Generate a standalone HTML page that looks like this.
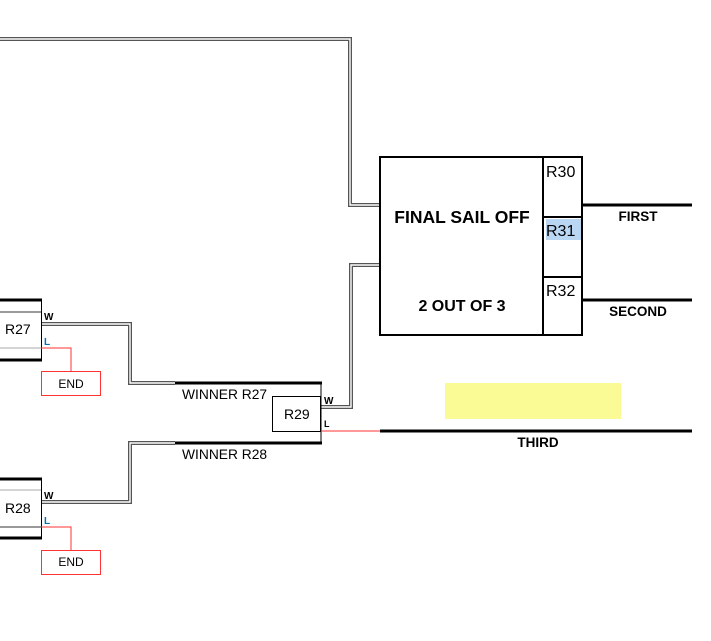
<!DOCTYPE html>
<html><head><style>
html,body{margin:0;padding:0;background:#fff;}
svg{display:block;}
text{font-family:"Liberation Sans",Arial,sans-serif;}
</style></head><body>
<svg width="711" height="641" viewBox="0 0 711 641" xmlns="http://www.w3.org/2000/svg">
<rect width="711" height="641" fill="#fff"/>
<g fill="none" stroke-linejoin="miter">
<g stroke="#555" stroke-width="4">
<polyline points="0,39 350,39 350,205 380,205"/>
<polyline points="321,407 351,407 351,265 380,265"/>
<polyline points="41,324 130,324 130,383 175,383"/>
<polyline points="41,502 130,502 130,443 175,443"/>
</g>
<g stroke="#fff" stroke-width="1.4">
<polyline points="0,39 350,39 350,205 380,205"/>
<polyline points="321,407 351,407 351,265 380,265"/>
<polyline points="41,324 130,324 130,383 175,383"/>
<polyline points="41,502 130,502 130,443 175,443"/>
</g>
</g>
<!-- R27 -->
<line x1="0" y1="300" x2="42" y2="300" stroke="#000" stroke-width="3"/>
<line x1="0" y1="312" x2="41" y2="312" stroke="#333" stroke-width="1"/>
<line x1="0" y1="348" x2="41" y2="348" stroke="#aaa" stroke-width="1"/>
<line x1="0" y1="360" x2="42" y2="360" stroke="#000" stroke-width="3"/>
<line x1="41.5" y1="299" x2="41.5" y2="361" stroke="#000" stroke-width="1"/>
<text x="5" y="334" font-size="14">R27</text>
<text x="44" y="320" font-size="10" font-weight="bold" fill="#000">W</text>
<text x="44" y="345" font-size="10" font-weight="bold" fill="#0070c0">L</text>
<polyline points="41,348 71,348 71,371" fill="none" stroke="#f33" stroke-width="1"/>
<rect x="41.5" y="371.5" width="59" height="24" fill="#fff" stroke="#f33" stroke-width="1"/>
<text x="71" y="388" font-size="12" text-anchor="middle">END</text>
<!-- R28 -->
<line x1="0" y1="479" x2="42" y2="479" stroke="#000" stroke-width="3"/>
<line x1="0" y1="490" x2="41" y2="490" stroke="#aaa" stroke-width="1"/>
<line x1="0" y1="527" x2="41" y2="527" stroke="#333" stroke-width="1"/>
<line x1="0" y1="538" x2="42" y2="538" stroke="#000" stroke-width="3"/>
<line x1="41.5" y1="478" x2="41.5" y2="539" stroke="#000" stroke-width="1"/>
<text x="5" y="513" font-size="14">R28</text>
<text x="44" y="499" font-size="10" font-weight="bold" fill="#000">W</text>
<text x="44" y="524" font-size="10" font-weight="bold" fill="#0070c0">L</text>
<polyline points="41,527 71,527 71,550" fill="none" stroke="#f33" stroke-width="1"/>
<rect x="41.5" y="550.5" width="59" height="24" fill="#fff" stroke="#f33" stroke-width="1"/>
<text x="71" y="566" font-size="12" text-anchor="middle">END</text>
<!-- winner lines -->
<line x1="175" y1="383" x2="322" y2="383" stroke="#000" stroke-width="3"/>
<line x1="175" y1="443" x2="322" y2="443" stroke="#000" stroke-width="3"/>
<line x1="321" y1="383" x2="321" y2="444" stroke="#000" stroke-width="1"/>
<text x="182" y="399" font-size="13.8">WINNER R27</text>
<text x="182" y="459" font-size="13.8">WINNER R28</text>
<!-- R29 -->
<rect x="272.5" y="396.5" width="48" height="35" fill="#fff" stroke="#000" stroke-width="1"/>
<text x="284" y="419" font-size="14">R29</text>
<text x="324" y="404" font-size="10" font-weight="bold">W</text>
<text x="324" y="427" font-size="9" font-weight="bold">L</text>
<line x1="321" y1="431" x2="380" y2="431" stroke="#f33" stroke-width="1"/>
<line x1="380" y1="431" x2="692" y2="431" stroke="#000" stroke-width="3"/>
<text x="538" y="447" font-size="13.5" font-weight="bold" text-anchor="middle">THIRD</text>
<rect x="445" y="383" width="176" height="36" fill="#fbfb96"/>
<!-- Final box -->
<rect x="380" y="157" width="202" height="178" fill="#fff" stroke="#000" stroke-width="2"/>
<line x1="543" y1="157" x2="543" y2="335" stroke="#000" stroke-width="2"/>
<line x1="543" y1="217" x2="582" y2="217" stroke="#000" stroke-width="2"/>
<line x1="543" y1="277" x2="582" y2="277" stroke="#000" stroke-width="2"/>
<text x="462" y="223" font-size="17.5" font-weight="bold" text-anchor="middle">FINAL SAIL OFF</text>
<text x="462" y="311" font-size="16" font-weight="bold" text-anchor="middle">2 OUT OF 3</text>
<text x="546" y="177" font-size="16">R30</text>
<rect x="546" y="219" width="35" height="21" fill="#b9d7f3"/>
<text x="546" y="236" font-size="16">R31</text>
<text x="546" y="296" font-size="16">R32</text>
<line x1="582" y1="205" x2="692" y2="205" stroke="#000" stroke-width="3"/>
<line x1="582" y1="300" x2="692" y2="300" stroke="#000" stroke-width="3"/>
<text x="638" y="221" font-size="13.5" font-weight="bold" text-anchor="middle">FIRST</text>
<text x="638" y="316" font-size="13.5" font-weight="bold" text-anchor="middle">SECOND</text>
</svg>
</body></html>
